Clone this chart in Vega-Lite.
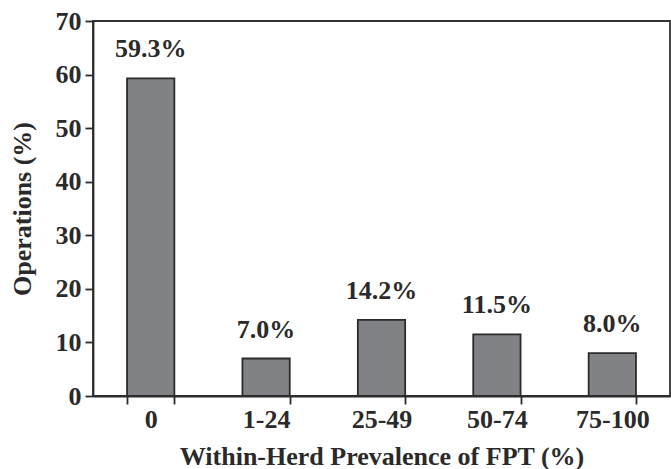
{
  "$schema": "https://vega.github.io/schema/vega-lite/v6.json",
  "width": 577,
  "height": 375,
  "autosize": {"type": "none"},
  "padding": {"left": 93, "top": 21, "right": 1, "bottom": 73},
  "background": "white",
  "data": {
    "values": [
      {"prevalence": "0", "operations": 59.3, "label": "59.3%"},
      {"prevalence": "1-24", "operations": 7.0, "label": "7.0%"},
      {"prevalence": "25-49", "operations": 14.2, "label": "14.2%"},
      {"prevalence": "50-74", "operations": 11.5, "label": "11.5%"},
      {"prevalence": "75-100", "operations": 8.0, "label": "8.0%"}
    ]
  },
  "encoding": {
    "x": {
      "field": "prevalence",
      "type": "nominal",
      "sort": null,
      "scale": {"paddingInner": 0.59, "paddingOuter": 0.295},
      "axis": {
        "title": "Within-Herd Prevalence of FPT (%)",
        "labelAngle": 0,
        "tickBand": "extent",
        "labelPadding": 2,
        "titlePadding": 11
      }
    },
    "y": {
      "field": "operations",
      "type": "quantitative",
      "scale": {"domain": [0, 70], "nice": false},
      "axis": {
        "title": "Operations (%)",
        "values": [0, 10, 20, 30, 40, 50, 60, 70],
        "labelPadding": 4,
        "titlePadding": 20
      }
    }
  },
  "layer": [
    {
      "mark": {"type": "bar", "color": "#808285", "stroke": "#2b2b2b", "strokeWidth": 1.8}
    },
    {
      "mark": {
        "type": "text",
        "baseline": "alphabetic",
        "dy": -21,
        "font": "Liberation Serif",
        "fontWeight": "bold",
        "fontSize": 26,
        "color": "#2a2a2a"
      },
      "encoding": {"text": {"field": "label", "type": "nominal"}}
    }
  ],
  "config": {
    "view": {"stroke": "#333333", "strokeWidth": 1.8},
    "axis": {
      "grid": false,
      "domainColor": "#2b2b2b",
      "domainWidth": 1.8,
      "tickColor": "#2b2b2b",
      "tickWidth": 1.8,
      "tickSize": 8,
      "labelFont": "Liberation Serif",
      "labelFontWeight": "bold",
      "labelFontSize": 26,
      "labelColor": "#2a2a2a",
      "titleFont": "Liberation Serif",
      "titleFontWeight": "bold",
      "titleFontSize": 26,
      "titleColor": "#2a2a2a"
    }
  }
}
